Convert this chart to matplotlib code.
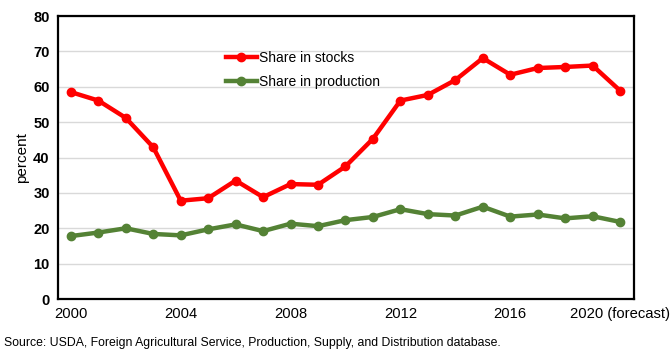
import matplotlib
matplotlib.use("Agg")
import matplotlib.pyplot as plt

plt.rcParams["font.family"] = ["Liberation Sans", "DejaVu Sans"]

years = list(range(2000, 2021))
stocks_share = [58.5, 56.1, 51.2, 42.9, 27.8, 28.5, 33.5, 28.8, 32.5, 32.3, 37.5,
                45.3, 56.1, 57.7, 61.9, 68.1, 63.4, 65.3, 65.6, 66.0, 58.9]
production_share = [17.8, 18.8, 20.0, 18.4, 18.0, 19.7, 21.1, 19.2, 21.3, 20.6, 22.3,
                    23.2, 25.4, 24.0, 23.6, 26.1, 23.3, 23.9, 22.8, 23.4, 21.8]
xtick_years = [2000, 2004, 2008, 2012, 2016, 2020]
xtick_labels = ["2000", "2004", "2008", "2012", "2016", "2020 (forecast)"]
yticks = [0, 10, 20, 30, 40, 50, 60, 70, 80]

fig = plt.figure(figsize=(6.71, 3.56), dpi=100)
ax = fig.add_axes([0.0864, 0.160, 0.8586, 0.795])

ax.plot(years, stocks_share, color="#ff0000", lw=3.2, marker="o", ms=6,
        label="Share in stocks", zorder=3)
ax.plot(years, production_share, color="#548235", lw=3.2, marker="o", ms=6,
        label="Share in production", zorder=3)

ax.set_xlim(1999.53, 2020.51)
ax.set_ylim(0, 80)
ax.set_yticks(yticks)
ax.set_yticklabels([str(v) for v in yticks], fontsize=10.5, fontweight="bold")
ax.set_xticks(xtick_years)
ax.set_xticklabels(xtick_labels, fontsize=10.6)
ax.tick_params(axis="both", length=0, pad=6)
ax.grid(axis="y", color="#d9d9d9", lw=1)
ax.set_axisbelow(True)
for sp in ax.spines.values():
    sp.set_linewidth(1.6)
    sp.set_color("black")

ax.set_ylabel("percent", fontsize=11, labelpad=3)

ax.legend(loc="upper left", bbox_to_anchor=(0.27, 0.92), frameon=False,
          fontsize=10, handlelength=2.2, handletextpad=0.2, labelspacing=0.7)

fig.text(0.006, 0.02, "Source: USDA, Foreign Agricultural Service, Production, Supply, and Distribution database.",
         fontsize=8.85, ha="left", va="bottom")

fig.savefig("out.png", dpi=100)
